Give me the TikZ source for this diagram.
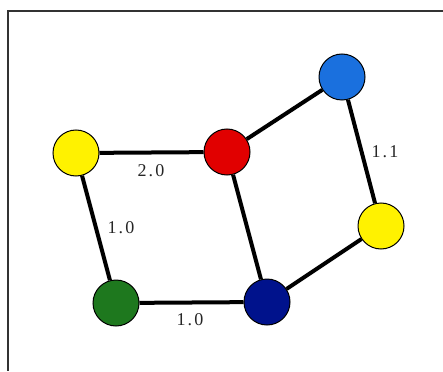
\documentclass[tikz,border=0pt]{standalone}
\usepackage{fontspec}
\setmainfont{Liberation Serif}[LetterSpace=12]
\begin{document}
\begin{tikzpicture}[x=1pt,y=-1pt,
  vtx/.style={circle,draw=black,line width=1pt,minimum size=46pt,inner sep=0pt},
  edge/.style={line width=4pt,black},
  lbl/.style={font=\fontsize{18}{20}\selectfont,text=black!85}]
\useasboundingbox (0,0) rectangle (443,371);
\fill[white] (0,0) rectangle (443,371);
\coordinate (tl) at (7.5,11.5);
\coordinate (tr) at (443,11.5);
\coordinate (bl) at (7.5,371);
\draw[line width=2pt,black!80] (tr) -- (tl) -- (bl);
\node[vtx,fill=yellow] (y1) at (76,153) {};
\node[vtx,fill={rgb,255:red,225;green,0;blue,0}] (r) at (227,152) {};
\node[vtx,fill={rgb,255:red,26;green,112;blue,222}] (b) at (342,77) {};
\node[vtx,fill=yellow] (y2) at (381,226) {};
\node[vtx,fill={rgb,255:red,30;green,120;blue,30}] (g) at (116,303) {};
\node[vtx,fill={rgb,255:red,0;green,18;blue,140}] (n) at (267,302) {};
\draw[edge] (y1) -- (r);
\draw[edge] (y1) -- (g);
\draw[edge] (r) -- (b);
\draw[edge] (b) -- (y2);
\draw[edge] (r) -- (n);
\draw[edge] (y2) -- (n);
\draw[edge] (g) -- (n);
\node[lbl] (l1) at (151,171) {2.0};
\node[lbl] (l2) at (121,228) {1.0};
\node[lbl] (l3) at (385,152) {1.1};
\node[lbl] (l4) at (190,320) {1.0};
\end{tikzpicture}
\end{document}
